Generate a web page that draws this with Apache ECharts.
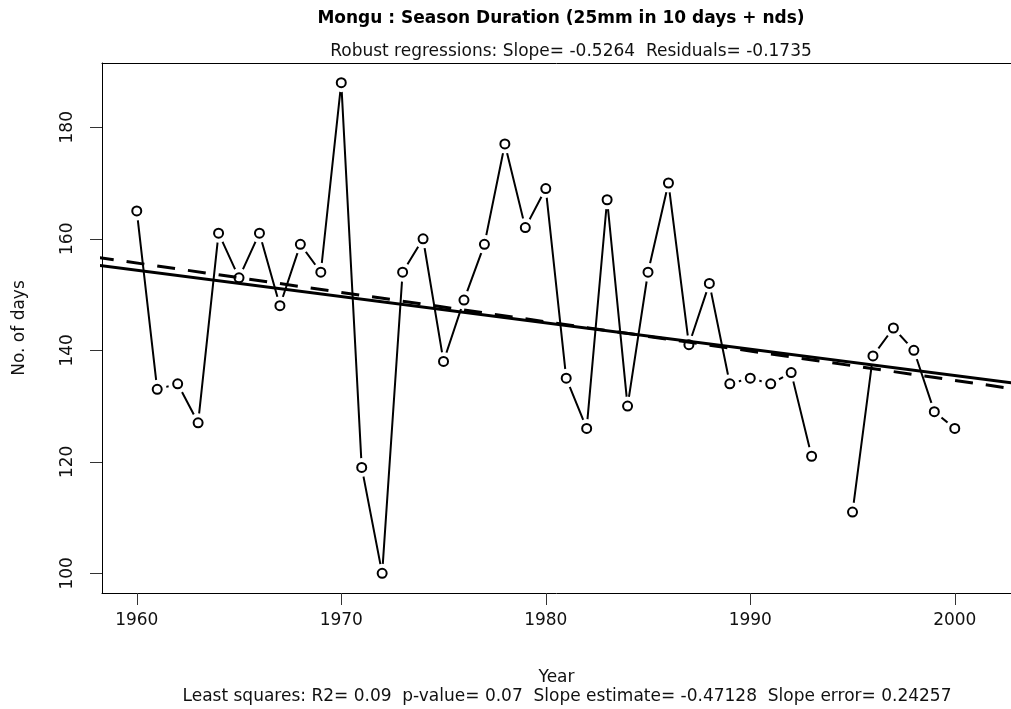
<!DOCTYPE html>
<html>
<head>
<meta charset="utf-8">
<script src="https://cdn.jsdelivr.net/npm/echarts@6/dist/echarts.min.js"></script>
<style>
  html, body { margin: 0; background: #fff; }
  #main { width: 1011px; height: 709px; }
</style>
</head>
<body>
<div id="main"></div>
<script>
// season duration per year (1994 missing)
const years = [1960, 1961, 1962, 1963, 1964, 1965, 1966, 1967, 1968, 1969,
  1970, 1971, 1972, 1973, 1974, 1975, 1976, 1977, 1978, 1979,
  1980, 1981, 1982, 1983, 1984, 1985, 1986, 1987, 1988, 1989,
  1990, 1991, 1992, 1993, 1994, 1995, 1996, 1997, 1998, 1999, 2000];
const days = [165, 133, 134, 127, 161, 153, 161, 148, 159, 154,
  188, 119, 100, 154, 160, 138, 149, 159, 177, 162,
  169, 135, 126, 167, 130, 154, 170, 141, 152, 134,
  135, 134, 136, 121, null, 111, 139, 144, 140, 129, 126];

// fitted lines, end points
const lsLine = [[1958, 155.3], [2004, 133.6]];      // least squares (solid)
const robustLine = [[1958, 156.7], [2004, 132.5]];  // robust (dashed)

const xTicks = [1960, 1970, 1980, 1990, 2000];
const yTicks = [100, 120, 140, 160, 180];

const titleText = 'Mongu : Season Duration (25mm in 10 days + nds)';
const subText = 'Robust regressions: Slope= -0.5264  Residuals= -0.1735';
const footText = 'Least squares: R2= 0.09  p-value= 0.07  Slope estimate= -0.47128  Slope error= 0.24257';

const font = 'DejaVu Sans';
const linePts = years.map((y, i) => [y, days[i] === null ? '-' : days[i]]);
const pts = years.map((y, i) => [y, days[i]]).filter(d => d[1] !== null);

let chart = echarts.init(document.getElementById('main'));
let option = {
  animation: false,
  backgroundColor: '#fff',
  textStyle: { fontFamily: font },
  grid: { left: 102, top: 63, bottom: 116, right: 0 },
  xAxis: [
    {
      type: 'value',
      min: 1958.3, max: 2002.75,
      name: 'Year', nameLocation: 'middle', nameGap: 76,
      nameTextStyle: { fontSize: 17, color: '#111', fontFamily: font },
      axisLine: { show: true, onZero: false, lineStyle: { color: '#000', width: 1 } },
      axisTick: { show: true, length: 12, customValues: xTicks, lineStyle: { color: '#333' } },
      axisLabel: { customValues: xTicks, margin: 19, fontSize: 17, color: '#111', fontFamily: font,
        formatter: v => String(v) },
      splitLine: { show: false }
    },
    {
      // top edge of the plot box
      type: 'value', position: 'top',
      min: 1958.3, max: 2002.75,
      axisLine: { show: true, onZero: false, lineStyle: { color: '#000', width: 1 } },
      axisTick: { show: false }, axisLabel: { show: false }, splitLine: { show: false }
    }
  ],
  yAxis: {
    type: 'value',
    min: 96.48, max: 191.52,
    name: 'No. of days', nameLocation: 'middle', nameGap: 74,
    nameTextStyle: { fontSize: 17, color: '#111', fontFamily: font },
    axisLine: { show: true, onZero: false, lineStyle: { color: '#000', width: 1 } },
    axisTick: { show: true, length: 12, customValues: yTicks, lineStyle: { color: '#333' } },
    axisLabel: { customValues: yTicks, rotate: 90, margin: 26, fontSize: 17, color: '#111', fontFamily: font },
    splitLine: { show: false }
  },
  series: [
    {
      type: 'line', data: linePts, symbol: 'none', z: 2,
      lineStyle: { color: '#000', width: 2 }, connectNulls: false
    },
    {
      // white halo so segments stop short of the points
      type: 'scatter', data: pts, symbol: 'circle', symbolSize: 19, z: 3, silent: true,
      itemStyle: { color: '#fff', opacity: 1 }
    },
    {
      type: 'scatter', data: pts, symbol: 'circle', symbolSize: 9, z: 4,
      itemStyle: { color: '#fff', borderColor: '#000', borderWidth: 2, opacity: 1 }
    },
    {
      type: 'line', data: lsLine, symbol: 'none', z: 5,
      lineStyle: { color: '#000', width: 3 }
    },
    {
      type: 'line', data: robustLine, symbol: 'none', z: 5,
      lineStyle: { color: '#000', width: 3, type: [18, 13] }
    }
  ],
  graphic: [
    { type: 'text', x: 561, y: 19, z: 10,
      style: { text: titleText, textAlign: 'center', textVerticalAlign: 'middle', font: 'bold 17px "DejaVu Sans"', fill: '#000' } },
    { type: 'text', x: 571, y: 52, z: 10,
      style: { text: subText, textAlign: 'center', textVerticalAlign: 'middle', font: '17px "DejaVu Sans"', fill: '#111' } },
    { type: 'text', x: 567, y: 697, z: 10,
      style: { text: footText, textAlign: 'center', textVerticalAlign: 'middle', font: '17px "DejaVu Sans"', fill: '#111' } }
  ]
};
chart.setOption(option);
</script>
</body>
</html>
